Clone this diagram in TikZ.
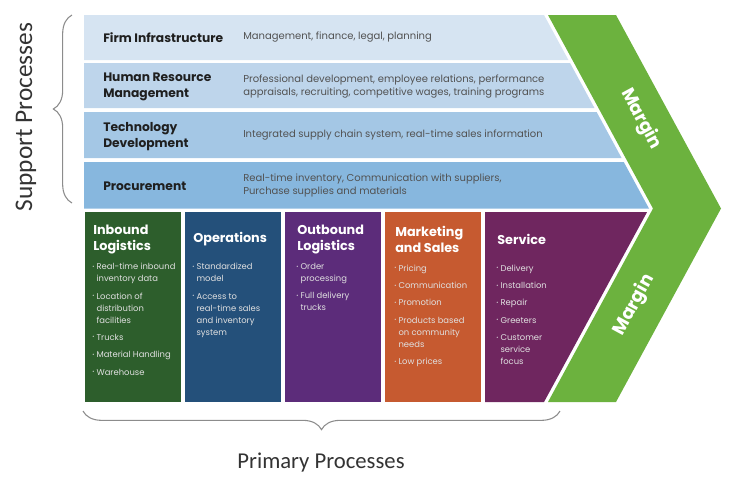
\documentclass[tikz,border=0pt]{standalone}
\usepackage{fontspec}
\setmainfont{Poppins}
\newfontfamily\bracefont{Carlito}
\usetikzlibrary{positioning,calc,decorations.pathreplacing}

\definecolor{rowa}{RGB}{214,228,242}
\definecolor{rowb}{RGB}{190,213,235}
\definecolor{rowc}{RGB}{164,199,229}
\definecolor{rowd}{RGB}{135,183,222}
\definecolor{inbound}{RGB}{45,94,44}
\definecolor{operations}{RGB}{36,80,122}
\definecolor{outbound}{RGB}{92,44,122}
\definecolor{marketing}{RGB}{198,90,48}
\definecolor{service}{RGB}{111,38,95}
\definecolor{margin}{RGB}{108,178,62}

\newcommand{\bul}{\raisebox{.3ex}{\scalebox{.6}{\textbullet}}\ }
\newcommand{\itm}{\\[4pt]\bul}
\newcommand{\cont}{\\\hphantom{\bul}}

\begin{document}
\begin{tikzpicture}[x=0.75pt,y=-0.75pt]
\tikzset{
    rowtitle/.style={anchor=west, align=left, inner sep=0pt, font=\fontsize{9.2}{11.6}\selectfont\bfseries, text=black!88},
    rowtext/.style={anchor=west, align=left, inner sep=0pt, font=\fontsize{7.5}{9.8}\selectfont, text=black!68},
    colhead/.style={anchor=west, align=left, inner sep=0pt, font=\fontsize{9.6}{11.4}\selectfont\bfseries, text=white},
    colitems/.style={anchor=north west, align=left, inner sep=0pt, font=\fontsize{6.3}{9}\selectfont, text=white!88!black},
    marginlabel/.style={font=\fontsize{13.5}{15}\selectfont\bfseries, text=white},
    bracelabel/.style={font=\bracefont, text=black!80},
    brace/.style={draw=black!45, thick, decorate, decoration={brace, amplitude=14pt}}
}
\useasboundingbox (0,0) rectangle (731,494);

% support rows
\fill[rowa] (84,15) -- (544,15) -- ({544+0.5426*45},60) -- (84,60) -- cycle;
\fill[rowb] (84,63) -- ({544+0.5426*48},63) -- ({544+0.5426*93},108) -- (84,108) -- cycle;
\fill[rowc] (84,112) -- ({544+0.5426*97},112) -- ({544+0.5426*143},158) -- (84,158) -- cycle;
\fill[rowd] (84,162) -- ({544+0.5426*147},162) -- (649,208.5) -- (84,208.5) -- cycle;

% margin chevron
\fill[margin] (548,15) -- (616,15) -- (721,208.5) -- (616,402) -- (548,402) -- (653,208.5) -- cycle;

% primary columns
\fill[inbound] (85,212) rectangle (181,402);
\fill[operations] (185,212) rectangle (281,402);
\fill[outbound] (285,212) rectangle (381,402);
\fill[marketing] (385,212) rectangle (481,402);
\fill[service] (485,212) -- ({649-0.5426*3.5},212) -- (544,402) -- (485,402) -- cycle;

% support texts
\node[rowtitle] (firm) at (103,37.5) {Firm Infrastructure};
\node[rowtext] (firmtext) at (243,37.5) {Management, finance, legal, planning};
\node[rowtitle] (hrm) at (103,87) {Human Resource\\Management};
\node[rowtext] (hrmtext) at (243,86.5) {Professional development, employee relations, performance\\appraisals, recruiting, competitive wages, training programs};
\node[rowtitle] (tech) at (103,136.5) {Technology\\Development};
\node[rowtext] (techtext) at (243,135) {Integrated supply chain system, real-time sales information};
\node[rowtitle] (proc) at (103,186) {Procurement};
\node[rowtext] (proctext) at (243,185.5) {Real-time inventory, Communication with suppliers,\\Purchase supplies and materials};

% primary texts
\node[colhead] (inb) at (93,239.5) {Inbound\\Logistics};
\node[colitems] (inbitems) at (92,263) {\bul Real-time inbound\cont inventory data\itm Location of\cont distribution\cont facilities\itm Trucks\itm Material Handling\itm Warehouse};
\node[colhead] (ops) at (193,239.5) {Operations};
\node[colitems] (opsitems) at (192,263) {\bul Standardized\cont model\itm Access to\cont real-time sales\cont and inventory\cont system};
\node[colhead] (outb) at (297,239.5) {Outbound\\Logistics};
\node[colitems] (outbitems) at (296,263) {\bul Order\cont processing\itm Full delivery\cont trucks};
\node[colhead] (mkt) at (395,239.5) {Marketing\\and Sales};
\node[colitems] (mktitems) at (394,264.5) {\bul Pricing\itm Communication\itm Promotion\itm Products based\cont on community\cont needs\itm Low prices};
\node[colhead] (serv) at (497,239.5) {Service};
\node[colitems] (servitems) at (496,264.5) {\bul Delivery\itm Installation\itm Repair\itm Greeters\itm Customer\cont service\cont focus};

% margin labels
\node[marginlabel, rotate=-61.5] (margintop) at (641,119) {Margin};
\node[marginlabel, rotate=61.5] (marginbot) at (634,305) {Margin};

% braces
\coordinate (supptop) at (72,15);
\coordinate (suppbot) at (72,203);
\coordinate (primleft) at (83,411);
\coordinate (primright) at (560,411);
\draw[brace] (suppbot) -- (supptop);
\draw[brace] (primright) -- (primleft);
\node[bracelabel, rotate=90, font=\bracefont\fontsize{19}{22}\selectfont] (support) at (26,117) {Support Processes};
\node[bracelabel, font=\bracefont\fontsize{17}{20}\selectfont] (primary) at (321,463) {Primary Processes};
\end{tikzpicture}
\end{document}
